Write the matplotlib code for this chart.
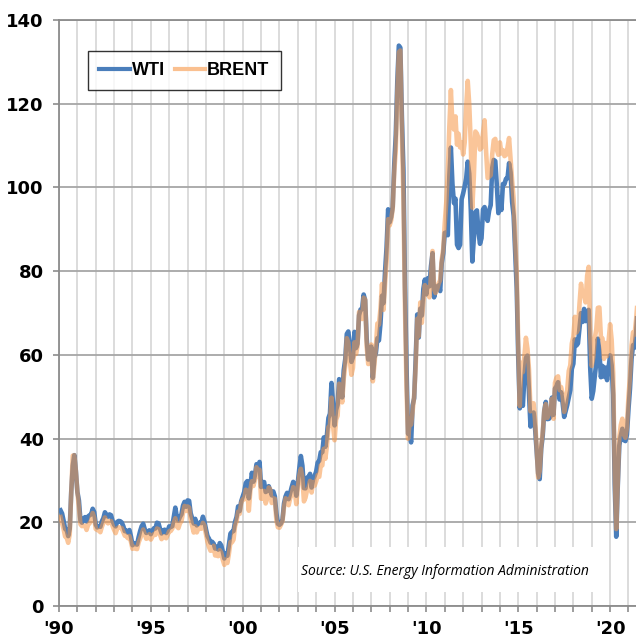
import numpy as np
import matplotlib
matplotlib.use("Agg")
import matplotlib.pyplot as plt
from matplotlib.patches import Rectangle

# monthly average spot prices, $/bbl, Jan 1990 - Jun 2021
wti = [
    22.86, 22.11, 20.39, 18.43, 18.20, 16.70, 18.45, 27.31, 33.51, 36.04, 32.33, 27.28,
    25.23, 20.48, 19.90, 20.83, 21.23, 20.19, 21.40, 21.69, 21.89, 23.23, 22.46, 19.50,
    18.79, 19.01, 18.92, 20.23, 20.98, 22.39, 21.78, 21.34, 21.88, 21.69, 20.34, 19.41,
    19.03, 20.09, 20.32, 20.25, 19.95, 19.09, 17.89, 18.01, 17.50, 18.15, 16.61, 14.52,
    15.03, 14.78, 14.68, 16.42, 17.89, 19.06, 19.66, 18.38, 17.45, 17.72, 18.07, 17.16,
    18.04, 18.57, 18.54, 19.90, 19.74, 18.45, 17.33, 18.02, 18.23, 17.43, 17.99, 19.03,
    18.85, 19.09, 21.33, 23.50, 21.17, 20.42, 21.30, 21.90, 23.97, 24.88, 23.71, 25.23,
    25.13, 22.18, 20.97, 19.70, 20.82, 19.26, 19.66, 19.95, 19.80, 21.33, 20.19, 18.33,
    16.72, 16.06, 15.12, 15.35, 14.91, 13.72, 14.17, 13.47, 15.03, 14.46, 13.00, 11.35,
    12.52, 12.01, 14.68, 17.31, 17.72, 17.92, 20.10, 21.28, 23.80, 22.69, 25.00, 26.10,
    27.26, 29.37, 29.84, 25.72, 28.79, 31.82, 29.70, 31.26, 33.88, 33.11, 34.42, 28.44,
    29.59, 29.61, 27.24, 27.49, 28.63, 27.60, 26.43, 27.37, 26.20, 22.17, 19.64, 19.39,
    19.72, 20.72, 24.53, 26.18, 27.04, 25.52, 26.97, 28.39, 29.66, 28.84, 26.35, 29.46,
    32.95, 35.83, 33.51, 28.17, 28.11, 30.66, 30.76, 31.57, 28.31, 30.34, 31.11, 32.13,
    34.31, 34.69, 36.74, 36.75, 40.28, 38.03, 40.78, 44.90, 45.94, 53.28, 48.47, 43.15,
    46.84, 48.15, 54.19, 52.98, 49.83, 56.35, 59.00, 64.99, 65.59, 62.26, 58.32, 59.41,
    65.49, 61.63, 62.69, 69.44, 70.84, 70.95, 74.41, 73.04, 63.80, 58.89, 59.08, 61.96,
    54.51, 59.28, 60.44, 63.98, 63.45, 67.49, 74.12, 72.36, 79.92, 85.80, 94.77, 91.69,
    92.97, 95.39, 105.45, 112.58, 125.40, 133.88, 133.37, 116.67, 104.11, 76.61, 57.31, 41.12,
    41.71, 39.09, 47.94, 49.65, 59.03, 69.64, 64.15, 71.05, 69.41, 75.72, 77.99, 74.47,
    78.33, 76.39, 81.20, 84.29, 73.74, 75.34, 76.32, 76.60, 75.24, 81.89, 84.25, 89.15,
    89.17, 88.58, 102.86, 109.53, 100.90, 96.26, 97.30, 86.33, 85.52, 86.32, 97.16, 98.56,
    100.27, 102.20, 106.16, 103.32, 94.66, 82.30, 87.90, 94.13, 94.51, 89.49, 86.53, 87.86,
    94.76, 95.31, 92.94, 92.02, 94.51, 95.77, 104.67, 106.57, 106.29, 100.54, 93.86, 97.63,
    94.62, 100.82, 100.80, 102.07, 102.18, 105.79, 103.59, 96.54, 93.21, 84.40, 75.79, 59.29,
    47.22, 50.58, 47.82, 54.45, 59.27, 59.82, 50.90, 42.87, 45.48, 46.22, 42.44, 37.19,
    31.68, 30.32, 37.55, 40.75, 46.71, 48.76, 44.65, 44.72, 45.18, 49.78, 45.66, 51.97,
    52.50, 53.47, 49.33, 51.06, 48.48, 45.18, 46.63, 48.04, 49.82, 51.58, 56.64, 57.88,
    63.70, 62.23, 62.73, 66.25, 69.98, 67.87, 70.98, 68.06, 70.23, 70.75, 56.96, 49.52,
    51.38, 54.95, 58.15, 63.86, 60.83, 54.66, 57.35, 54.81, 56.95, 53.96, 57.03, 59.88,
    57.52, 50.54, 29.21, 16.55, 28.56, 38.31, 40.71, 42.34, 39.63, 39.40, 40.94, 47.02,
    52.00, 59.04, 62.33, 61.72, 65.17, 71.38,
]
brent = [
    21.25, 19.81, 18.39, 16.61, 16.35, 15.10, 17.17, 27.17, 35.92, 36.02, 32.31, 27.28,
    23.57, 19.54, 19.08, 19.18, 19.19, 18.17, 19.40, 19.77, 20.50, 22.21, 21.11, 18.41,
    18.16, 18.05, 17.63, 18.92, 19.89, 21.16, 20.25, 19.74, 20.27, 20.28, 19.13, 18.17,
    17.40, 18.49, 18.79, 18.71, 18.58, 17.66, 16.79, 16.72, 16.19, 16.72, 15.34, 13.67,
    14.15, 13.69, 13.60, 15.16, 16.14, 17.12, 18.28, 17.14, 16.06, 16.24, 17.15, 15.87,
    16.59, 17.19, 16.99, 18.52, 18.32, 17.05, 15.97, 16.48, 16.66, 16.19, 17.03, 17.86,
    17.93, 18.48, 19.87, 20.96, 18.98, 18.60, 19.74, 20.26, 22.33, 23.91, 22.69, 23.78,
    23.54, 20.85, 19.13, 17.56, 19.02, 17.58, 18.46, 18.60, 18.46, 19.87, 19.17, 17.15,
    15.34, 14.07, 13.20, 13.29, 14.40, 12.08, 12.06, 11.91, 13.34, 12.70, 11.04, 9.82,
    11.11, 10.27, 12.51, 15.29, 15.23, 15.86, 19.08, 20.22, 22.54, 22.01, 24.59, 25.51,
    25.51, 27.78, 27.49, 22.76, 27.74, 29.80, 28.68, 30.20, 33.14, 30.96, 32.55, 25.66,
    25.62, 27.50, 24.50, 25.66, 28.31, 27.85, 24.61, 25.68, 25.62, 20.54, 18.80, 18.71,
    19.42, 20.28, 23.70, 25.73, 25.35, 24.08, 25.74, 26.65, 28.40, 27.54, 24.34, 28.33,
    31.18, 32.77, 30.61, 25.00, 25.86, 27.65, 28.35, 29.89, 27.11, 29.61, 28.75, 29.81,
    31.28, 30.86, 33.63, 33.59, 37.57, 35.18, 38.22, 42.74, 43.20, 49.78, 43.11, 39.60,
    44.51, 45.48, 53.10, 51.88, 48.65, 54.35, 57.52, 63.98, 62.91, 58.54, 55.24, 56.86,
    62.99, 60.21, 62.06, 70.26, 69.78, 68.56, 73.67, 73.23, 61.96, 57.81, 58.76, 62.47,
    53.68, 57.56, 62.05, 67.49, 67.21, 71.05, 76.93, 70.76, 77.17, 82.34, 92.41, 90.93,
    92.18, 94.99, 103.64, 109.07, 122.80, 132.32, 132.72, 113.24, 97.23, 71.58, 52.45, 39.95,
    43.44, 43.32, 46.54, 50.18, 57.30, 68.61, 64.44, 72.51, 67.65, 72.77, 76.66, 74.46,
    76.17, 73.75, 78.83, 84.82, 75.95, 74.76, 75.58, 77.04, 77.84, 82.67, 85.28, 91.45,
    96.52, 103.72, 114.64, 123.26, 114.99, 113.83, 116.97, 110.22, 112.83, 109.55, 110.77, 107.87,
    110.69, 119.33, 125.45, 119.75, 110.34, 95.16, 102.62, 113.36, 112.86, 111.71, 109.06, 109.49,
    112.96, 116.05, 108.47, 102.25, 102.56, 102.92, 107.93, 111.28, 111.60, 109.08, 107.79, 110.76,
    108.12, 108.90, 107.48, 107.76, 109.54, 111.80, 106.77, 101.61, 97.09, 87.43, 79.44, 62.34,
    47.76, 58.10, 55.89, 59.52, 64.08, 61.48, 56.56, 46.52, 47.62, 48.43, 44.27, 38.01,
    30.70, 32.18, 38.21, 41.58, 46.74, 48.25, 44.95, 45.84, 46.57, 49.52, 44.73, 53.31,
    54.58, 54.87, 51.59, 52.31, 50.33, 46.37, 48.48, 51.70, 56.15, 57.51, 62.71, 64.37,
    69.08, 65.32, 66.02, 72.11, 76.98, 74.41, 74.25, 72.53, 78.89, 81.03, 64.75, 57.36,
    59.41, 63.96, 66.14, 71.23, 71.32, 64.22, 63.92, 59.04, 62.83, 59.71, 63.21, 67.31,
    63.65, 55.66, 32.01, 18.38, 29.38, 40.27, 43.24, 44.74, 40.91, 40.19, 42.69, 49.99,
    54.77, 62.28, 65.41, 64.81, 68.53, 73.16,
]
x_labels = ["'90", "'95", "'00", "'05", "'10", "'15", "'20"]
source = "Source: U.S. Energy Information Administration"

n = len(wti)
t = 1990 + (np.arange(n) + 1) / 12.0

plt.rcParams['font.family'] = ['Liberation Sans', 'DejaVu Sans']

fig = plt.figure(figsize=(6.36, 6.37), dpi=100)
ax = fig.add_axes([59 / 636, 31 / 637, 1 - 59 / 636, 586 / 637])

ax.plot(t, wti, color='#4a7ebb', lw=3.3, label='WTI', zorder=3, solid_joinstyle='round')
ax.plot(t, brent, color='#f79646', alpha=0.55, lw=3.3, label='BRENT', zorder=4,
        solid_joinstyle='round')

ax.set_xlim(1990, 1990 + (636 - 59) / 18.37)
ax.set_ylim(0, 140)

ax.set_xticks(np.arange(1990, 2022, 1))
ax.set_xticklabels([x_labels[(y - 1990) // 5] if (y - 1990) % 5 == 0 else ''
                    for y in range(1990, 2022)])
ax.set_yticks(np.arange(0, 141, 20))

ax.xaxis.grid(True, color='#d9d9d9', lw=1.3, zorder=0)
ax.yaxis.grid(True, color='#a6a6a6', lw=1.3, zorder=1)
ax.set_axisbelow(True)

for s in ['left', 'bottom', 'top']:
    ax.spines[s].set_color('#8c8c8c')
    ax.spines[s].set_linewidth(1.3)
ax.spines['right'].set_visible(False)

ax.tick_params(axis='both', colors='#8c8c8c', length=4, width=1.2)
ax.tick_params(axis='y', labelcolor='black', pad=7)
ax.tick_params(axis='x', labelcolor='black', pad=6)
for lab in ax.get_xticklabels() + ax.get_yticklabels():
    lab.set_fontweight('bold')
    lab.set_fontsize(13)
    lab.set_family('DejaVu Sans')

# source box
ax.add_patch(Rectangle((2003.0, 3.3), 16.85, 10.8, facecolor='white',
                       edgecolor='none', zorder=2))
ax.text(2011.0, 8.3, source, style='italic', fontsize=10, family='Open Sans',
        ha='center', va='center', zorder=5)

leg = ax.legend(loc='upper left', bbox_to_anchor=(88 / 636, 1 - 51 / 637),
                bbox_transform=fig.transFigure, borderaxespad=0, ncol=2,
                frameon=True, fancybox=False,
                handlelength=1.7, handletextpad=0.1, columnspacing=0.55,
                borderpad=0.62, prop={'weight': 'bold', 'size': 13})
leg.get_frame().set_edgecolor('black')
leg.get_frame().set_linewidth(1.0)
for line in leg.get_lines():
    line.set_alpha(1.0)
    line.set_linewidth(3.0)
leg.get_lines()[1].set_color('#fac090')

fig.savefig('out.png', dpi=100)
